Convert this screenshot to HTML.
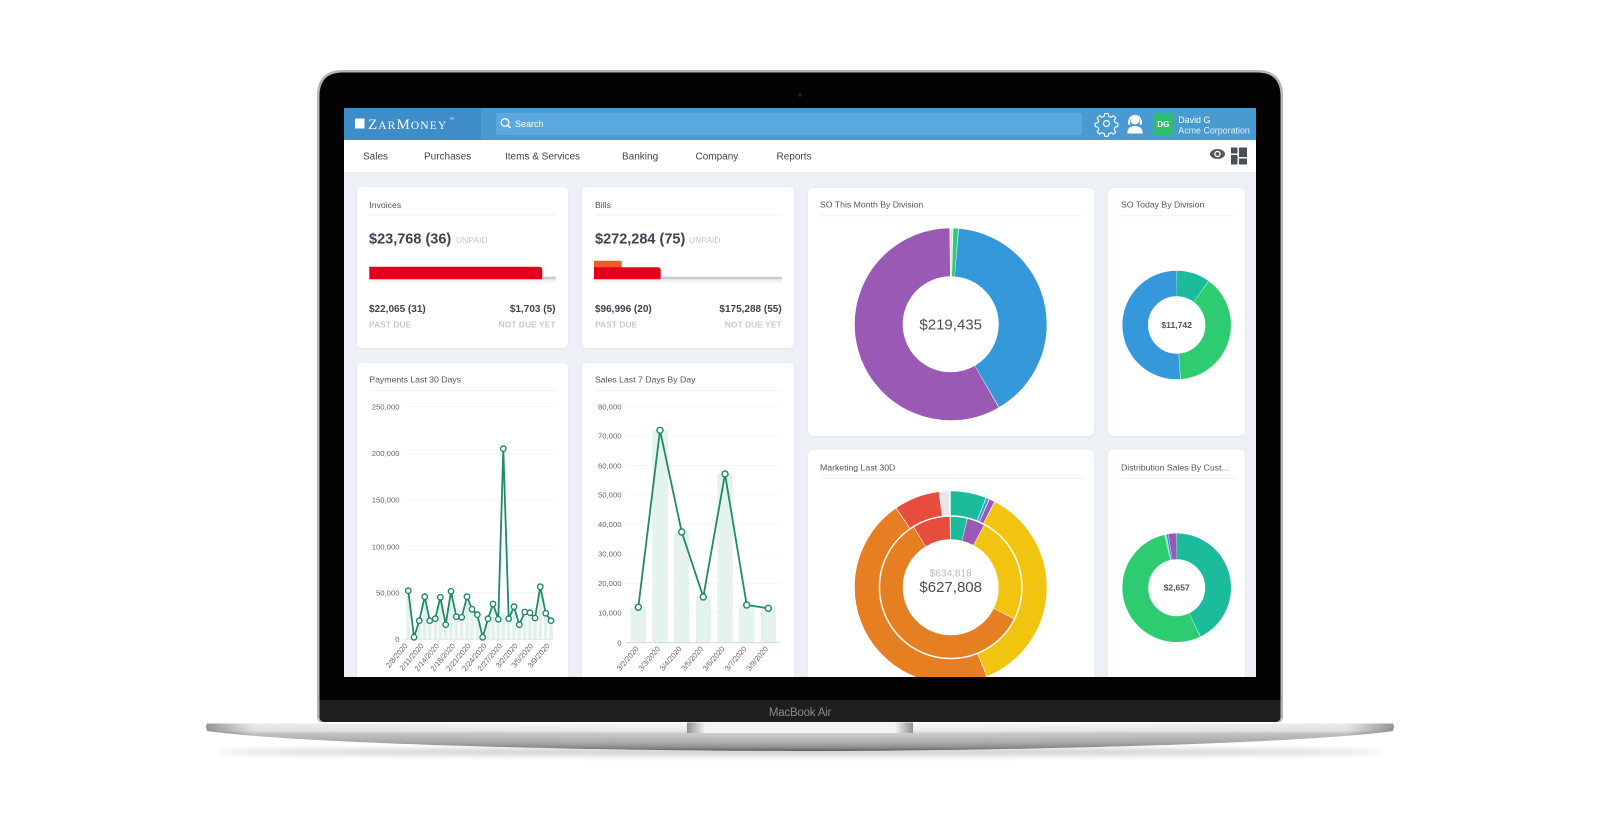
<!DOCTYPE html>
<html><head><meta charset="utf-8"><style>
html,body{margin:0;padding:0;background:#fff;}
svg{display:block;}
text{font-family:"Liberation Sans",Arial,sans-serif;}
</style></head><body>
<svg width="1600" height="825" viewBox="0 0 1600 825" xmlns="http://www.w3.org/2000/svg">
<defs>
<linearGradient id="baseG" x1="0" y1="722" x2="0" y2="751" gradientUnits="userSpaceOnUse">
<stop offset="0" stop-color="#fdfdfd"/><stop offset="0.3" stop-color="#eeeeee"/><stop offset="0.4" stop-color="#cdcdcd"/><stop offset="0.7" stop-color="#b0b0b0"/><stop offset="0.88" stop-color="#8e8e8e"/><stop offset="1" stop-color="#5c5c5c"/>
</linearGradient>
<linearGradient id="baseH" x1="206" y1="0" x2="1394" y2="0" gradientUnits="userSpaceOnUse">
<stop offset="0" stop-color="#000" stop-opacity="0.4"/><stop offset="0.04" stop-color="#000" stop-opacity="0.06"/><stop offset="0.5" stop-color="#000" stop-opacity="0"/><stop offset="0.96" stop-color="#000" stop-opacity="0.06"/><stop offset="1" stop-color="#000" stop-opacity="0.4"/>
</linearGradient>
<linearGradient id="notchG" x1="687" y1="0" x2="913" y2="0" gradientUnits="userSpaceOnUse">
<stop offset="0" stop-color="#8f8f8f"/><stop offset="0.08" stop-color="#f3f3f3"/><stop offset="0.92" stop-color="#f3f3f3"/><stop offset="1" stop-color="#8f8f8f"/>
</linearGradient>
<filter id="blur3" x="-10%" y="-200%" width="120%" height="500%"><feGaussianBlur stdDeviation="3"/></filter>
<filter id="cardS" x="-5%" y="-5%" width="110%" height="110%"><feDropShadow dx="0" dy="0.5" stdDeviation="0.8" flood-color="#000" flood-opacity="0.08"/></filter>
<clipPath id="scr"><rect x="344" y="108" width="912" height="569"/></clipPath>
</defs>

<!-- shadow under base -->
<ellipse cx="800" cy="752" rx="585" ry="4" fill="#000" opacity="0.18" filter="url(#blur3)"/>

<!-- lid -->
<path d="M317 96 Q317 70 343 70 L1257 70 Q1283 70 1283 96 L1283 716 Q1283 723 1276 723 L324 723 Q317 723 317 716 Z" fill="#b5b5b7"/>
<path d="M319.5 96 Q319.5 72.5 343 72.5 L1257 72.5 Q1280.5 72.5 1280.5 96 L1280.5 716 Q1280.5 722 1275 722 L325 722 Q319.5 722 319.5 716 Z" fill="#030303"/>
<path d="M319.5 700 L1280.5 700 L1280.5 716 Q1280.5 722 1275 722 L325 722 Q319.5 722 319.5 716 Z" fill="#1e1e20"/>
<circle cx="800" cy="95" r="2" fill="#1a1a1a"/>
<text x="800" y="716" text-anchor="middle" font-size="11.5" fill="#8a8a8a" letter-spacing="-0.2">MacBook Air</text>

<!-- base -->
<path d="M212 722 L1388 722 Q1394 722 1394 727 L1393 731 C1300 744 1000 751 800 751 C600 751 300 744 207 731 L206 727 Q206 722 212 722 Z" fill="url(#baseG)"/>
<path d="M212 722 L1388 722 Q1394 722 1394 727 L1393 731 C1300 744 1000 751 800 751 C600 751 300 744 207 731 L206 727 Q206 722 212 722 Z" fill="url(#baseH)"/>
<rect x="208" y="722" width="1184" height="1.5" fill="#fdfdfd"/>
<rect x="687" y="722.5" width="226" height="10.5" fill="url(#notchG)"/>

<!-- screen -->
<g clip-path="url(#scr)">
<rect x="344" y="108" width="912" height="569" fill="#edf0f4"/>
<!-- header -->
<rect x="344" y="108" width="912" height="32" fill="#4a9ad2"/>
<rect x="344" y="108" width="137" height="32" fill="#3f8dc8"/>
<rect x="355" y="118.5" width="9.5" height="10" fill="#fff"/>
<text x="368" y="129" fill="#fff" letter-spacing="1.1" style="font-family:'Liberation Serif',serif"><tspan font-size="15">Z</tspan><tspan font-size="11.5">AR</tspan><tspan font-size="15">M</tspan><tspan font-size="11.5">ONEY</tspan></text>
<text x="449" y="121" fill="#fff" font-size="5">™</text>
<rect x="496" y="113" width="586" height="22" rx="2" fill="#5aa9de"/>
<circle cx="505" cy="122.5" r="3.8" fill="none" stroke="#fff" stroke-width="1.3"/>
<line x1="507.8" y1="125.3" x2="510.5" y2="128" stroke="#fff" stroke-width="1.4"/>
<text x="515" y="127" fill="#fff" font-size="9">Search</text>
<!-- gear (outline) -->
<circle cx="1106.5" cy="123.5" r="3" fill="none" stroke="#fff" stroke-width="1.2"/>
<path d="M1104.8 113.5 L1108.2 113.5 L1108.7 116.2 L1111.2 117.2 L1113.4 115.6 L1115.8 118 L1114.2 120.2 L1115.2 122.7 L1117.8 123.2 L1117.8 126.6 L1115.2 127.1 L1114.2 129.6 L1115.8 131.8 L1113.4 134.2 L1111.2 132.6 L1108.7 133.6 L1108.2 136.3 L1104.8 136.3 L1104.3 133.6 L1101.8 132.6 L1099.6 134.2 L1097.2 131.8 L1098.8 129.6 L1097.8 127.1 L1095.2 126.6 L1095.2 123.2 L1097.8 122.7 L1098.8 120.2 L1097.2 118 L1099.6 115.6 L1101.8 117.2 L1104.3 116.2 Z" fill="none" stroke="#fff" stroke-width="1.1" stroke-linejoin="round"/>
<!-- headset -->
<circle cx="1135" cy="120" r="4.4" fill="#fff"/>
<path d="M1127.3 133.5 Q1127.3 126 1135 126 Q1142.7 126 1142.7 133.5 Z" fill="#fff"/>
<path d="M1129 121.5 A6 6 0 0 1 1141 121.5" fill="none" stroke="#fff" stroke-width="1.3"/>
<rect x="1128" y="120.5" width="2.2" height="4" fill="#fff"/>
<rect x="1139.8" y="120.5" width="2.2" height="4" fill="#fff"/>
<!-- user -->
<rect x="1153.3" y="113.3" width="20" height="21.7" fill="#2ebf6e"/>
<text x="1163.3" y="127" text-anchor="middle" fill="#fff" font-size="8" font-weight="bold">DG</text>
<text x="1178.3" y="123" fill="#fff" font-size="8.9">David G</text>
<text x="1178.3" y="133.3" fill="#e6f1fa" font-size="8.9">Acme Corporation</text>
<!-- nav -->
<rect x="344" y="140" width="912" height="33" fill="#fff"/>
<rect x="344" y="172.5" width="912" height="1" fill="#e2e5ea"/>
<g font-size="10" fill="#444">
<text x="363" y="159.5">Sales</text>
<text x="424" y="159.5">Purchases</text>
<text x="505" y="159.5">Items &amp; Services</text>
<text x="622" y="159.5">Banking</text>
<text x="695.5" y="159.5">Company</text>
<text x="776.5" y="159.5">Reports</text>
</g>
<ellipse cx="1217.5" cy="154" rx="7.5" ry="5" fill="#555a62"/>
<circle cx="1217.5" cy="154" r="3.2" fill="#fff"/>
<circle cx="1217.5" cy="154" r="1.9" fill="#555a62"/>
<g fill="#4a4f5a">
<rect x="1231" y="147.5" width="6.5" height="6"/>
<rect x="1231" y="155" width="6.5" height="9.5"/>
<rect x="1239" y="147.5" width="8" height="9.5"/>
<rect x="1239" y="158.5" width="8" height="6"/>
</g>

<!-- cards -->
<g fill="#fff" filter="url(#cardS)">
<rect x="357" y="187" width="211" height="161" rx="5"/>
<rect x="582" y="187" width="212" height="161" rx="5"/>
<rect x="357" y="363" width="211" height="330" rx="5"/>
<rect x="582" y="363" width="212" height="330" rx="5"/>
<rect x="808" y="188" width="286" height="248" rx="5"/>
<rect x="1108" y="188" width="137" height="248" rx="5"/>
<rect x="808" y="450" width="286" height="250" rx="5"/>
<rect x="1108" y="450" width="137" height="250" rx="5"/>
</g>
<g fill="#eef0f2">
<rect x="369" y="214.5" width="187" height="1"/>
<rect x="595" y="214.5" width="187" height="1"/>
<rect x="369" y="390.2" width="187" height="1"/>
<rect x="595" y="390.2" width="187" height="1"/>
<rect x="820" y="215.2" width="263" height="1"/>
<rect x="1121" y="215.2" width="114" height="1"/>
<rect x="820" y="477.8" width="263" height="1"/>
<rect x="1121" y="477.8" width="114" height="1"/>
</g>
<g font-size="8.7" fill="#555">
<text x="369.3" y="208">Invoices</text>
<text x="595" y="208">Bills</text>
<text x="369.3" y="382.5">Payments Last 30 Days</text>
<text x="595" y="382.5">Sales Last 7 Days By Day</text>
<text x="820" y="207.5">SO This Month By Division</text>
<text x="1121" y="207.5">SO Today By Division</text>
<text x="820" y="470.5">Marketing Last 30D</text>
<text x="1121" y="470.5">Distribution Sales By Cust...</text>
</g>

<!-- invoices -->
<text x="369" y="243.5" font-size="14.5" font-weight="bold" fill="#3c4250">$23,768 (36)</text>
<text x="456" y="243" font-size="8.5" fill="#c2c6cd">UNPAID</text>
<rect x="369" y="279.3" width="187" height="3" fill="#eff1f3"/>
<path d="M369.3 266.7 L539.3 266.7 Q542.3 266.7 542.3 269.7 L542.3 279.3 L369.3 279.3 Z" fill="#e2001a"/>
<rect x="542.3" y="276.7" width="13.4" height="2.6" fill="#c6cbd0"/>
<text x="369" y="311.8" font-size="10" font-weight="bold" fill="#3c4250">$22,065 (31)</text>
<text x="555.5" y="311.8" font-size="10" font-weight="bold" fill="#3c4250" text-anchor="end">$1,703 (5)</text>
<text x="369" y="327.3" font-size="8.5" font-weight="bold" fill="#c6cad0">PAST DUE</text>
<text x="555.5" y="327.3" font-size="8.5" font-weight="bold" fill="#c6cad0" text-anchor="end">NOT DUE YET</text>

<!-- bills -->
<text x="595" y="243.5" font-size="14.5" font-weight="bold" fill="#3c4250">$272,284 (75)</text>
<text x="689" y="243" font-size="8.5" fill="#c2c6cd">UNPAID</text>
<rect x="594" y="279.3" width="188" height="3" fill="#eff1f3"/>
<path d="M594 260.7 L619.7 260.7 Q621.7 260.7 621.7 262.7 L621.7 268 L594 268 Z" fill="#f15a24"/>
<path d="M594 267.3 L657.7 267.3 Q660.7 267.3 660.7 270.3 L660.7 279.3 L594 279.3 Z" fill="#e2001a"/>
<rect x="660.7" y="276.7" width="121" height="2.6" fill="#c6cbd0"/>
<text x="595" y="311.8" font-size="10" font-weight="bold" fill="#3c4250">$96,996 (20)</text>
<text x="781.7" y="311.8" font-size="10" font-weight="bold" fill="#3c4250" text-anchor="end">$175,288 (55)</text>
<text x="595" y="327.3" font-size="8.5" font-weight="bold" fill="#c6cad0">PAST DUE</text>
<text x="781.7" y="327.3" font-size="8.5" font-weight="bold" fill="#c6cad0" text-anchor="end">NOT DUE YET</text>

<!-- payments chart -->
<g stroke="#f1f2f3" stroke-width="0.8">
<line x1="404" y1="406.7" x2="553" y2="406.7"/><line x1="404" y1="453.3" x2="553" y2="453.3"/><line x1="404" y1="500" x2="553" y2="500"/><line x1="404" y1="546.7" x2="553" y2="546.7"/><line x1="404" y1="592.7" x2="553" y2="592.7"/>
</g>
<g font-size="7.7" fill="#666" text-anchor="end">
<text x="399.5" y="409.4">250,000</text><text x="399.5" y="456">200,000</text><text x="399.5" y="502.7">150,000</text><text x="399.5" y="549.4">100,000</text><text x="399.5" y="595.4">50,000</text><text x="399.5" y="642">0</text>
</g>
<g fill="#e3f1ec">
<rect x="406.5" y="596" width="3.6" height="43.3"/><rect x="417.5" y="624" width="3.6" height="15.3"/><rect x="422.9" y="602" width="3.6" height="37.3"/><rect x="427.9" y="624" width="3.6" height="15.3"/><rect x="433.5" y="622" width="3.6" height="17.3"/><rect x="438.5" y="603" width="3.6" height="36.3"/><rect x="443.9" y="628" width="3.6" height="11.3"/><rect x="449.2" y="597" width="3.6" height="42.3"/><rect x="454.5" y="620" width="3.6" height="19.3"/><rect x="459.9" y="620" width="3.6" height="19.3"/><rect x="465.2" y="602" width="3.6" height="37.3"/><rect x="470.2" y="613" width="3.6" height="26.3"/><rect x="475.5" y="618" width="3.6" height="21.3"/><rect x="486.2" y="622" width="3.6" height="17.3"/><rect x="491.2" y="609" width="3.6" height="30.3"/><rect x="496.5" y="623" width="3.6" height="16.3"/><rect x="501.5" y="612" width="3.6" height="27.3"/><rect x="506.9" y="622" width="3.6" height="17.3"/><rect x="512.2" y="611" width="3.6" height="28.3"/><rect x="517.5" y="628" width="3.6" height="11.3"/><rect x="522.9" y="616" width="3.6" height="23.3"/><rect x="528.2" y="616" width="3.6" height="23.3"/><rect x="533.2" y="621" width="3.6" height="18.3"/><rect x="538.5" y="592" width="3.6" height="47.3"/><rect x="543.9" y="617" width="3.6" height="22.3"/><rect x="549.2" y="624" width="3.6" height="15.3"/>
</g>
<line x1="404" y1="639.3" x2="553" y2="639.3" stroke="#dfe3e6" stroke-width="0.8"/>
<polyline fill="none" stroke="#1e8a68" stroke-width="1.8" stroke-linejoin="round" points="408.3,590.7 414,637.3 419.3,620.7 424.7,596.7 429.7,620.7 435.3,618.7 440.3,597.3 445.7,624.7 451,591.3 456.3,616.7 461.7,617.3 467,596.7 472,609.3 477.3,614.7 482.7,637.3 488,618.7 493,604 498.3,619.3 503.3,448.7 508.7,618.7 514,606.7 519.3,624.7 524.7,612 530,612.7 535,618 540.3,586.7 545.7,613.3 551,620.7"/>
<g fill="#fff" stroke="#1e8a68" stroke-width="1.4">
<circle cx="408.3" cy="590.7" r="2.7"/><circle cx="414" cy="637.3" r="2.7"/><circle cx="419.3" cy="620.7" r="2.7"/><circle cx="424.7" cy="596.7" r="2.7"/><circle cx="429.7" cy="620.7" r="2.7"/><circle cx="435.3" cy="618.7" r="2.7"/><circle cx="440.3" cy="597.3" r="2.7"/><circle cx="445.7" cy="624.7" r="2.7"/><circle cx="451" cy="591.3" r="2.7"/><circle cx="456.3" cy="616.7" r="2.7"/><circle cx="461.7" cy="617.3" r="2.7"/><circle cx="467" cy="596.7" r="2.7"/><circle cx="472" cy="609.3" r="2.7"/><circle cx="477.3" cy="614.7" r="2.7"/><circle cx="482.7" cy="637.3" r="2.7"/><circle cx="488" cy="618.7" r="2.7"/><circle cx="493" cy="604" r="2.7"/><circle cx="498.3" cy="619.3" r="2.7"/><circle cx="503.3" cy="448.7" r="2.7"/><circle cx="508.7" cy="618.7" r="2.7"/><circle cx="514" cy="606.7" r="2.7"/><circle cx="519.3" cy="624.7" r="2.7"/><circle cx="524.7" cy="612" r="2.7"/><circle cx="530" cy="612.7" r="2.7"/><circle cx="535" cy="618" r="2.7"/><circle cx="540.3" cy="586.7" r="2.7"/><circle cx="545.7" cy="613.3" r="2.7"/><circle cx="551" cy="620.7" r="2.7"/>
</g>
<g font-size="7.5" fill="#666" text-anchor="end">
<text transform="translate(408,646) rotate(-50)">2/8/2020</text>
<text transform="translate(424,646) rotate(-50)">2/11/2020</text>
<text transform="translate(439.5,646) rotate(-50)">2/14/2020</text>
<text transform="translate(455.5,646) rotate(-50)">2/18/2020</text>
<text transform="translate(471,646) rotate(-50)">2/21/2020</text>
<text transform="translate(487,646) rotate(-50)">2/24/2020</text>
<text transform="translate(502.5,646) rotate(-50)">2/27/2020</text>
<text transform="translate(518,646) rotate(-50)">3/2/2020</text>
<text transform="translate(533.5,646) rotate(-50)">3/5/2020</text>
<text transform="translate(550,646) rotate(-50)">3/9/2020</text>
</g>

<!-- sales chart -->
<g stroke="#f3f4f5" stroke-width="0.8">
<line x1="626" y1="406.7" x2="780" y2="406.7"/><line x1="626" y1="436" x2="780" y2="436"/><line x1="626" y1="465.7" x2="780" y2="465.7"/><line x1="626" y1="495" x2="780" y2="495"/><line x1="626" y1="524.3" x2="780" y2="524.3"/><line x1="626" y1="554" x2="780" y2="554"/><line x1="626" y1="583.3" x2="780" y2="583.3"/><line x1="626" y1="612.7" x2="780" y2="612.7"/>
</g>
<g font-size="7.7" fill="#666" text-anchor="end">
<text x="621.5" y="409.4">80,000</text><text x="621.5" y="438.7">70,000</text><text x="621.5" y="468.4">60,000</text><text x="621.5" y="497.7">50,000</text><text x="621.5" y="527">40,000</text><text x="621.5" y="556.7">30,000</text><text x="621.5" y="586">20,000</text><text x="621.5" y="615.4">10,000</text><text x="621.5" y="645.4">0</text>
</g>
<g fill="#e5f3ee">
<rect x="630.7" y="607.3" width="15.3" height="35.4"/>
<rect x="652.3" y="430" width="15.7" height="212.7"/>
<rect x="674" y="531.7" width="15.3" height="111"/>
<rect x="695.7" y="596.7" width="15.3" height="46"/>
<rect x="717.3" y="473.3" width="15.4" height="169.4"/>
<rect x="739" y="605" width="15.3" height="37.7"/>
<rect x="760.7" y="608.3" width="15.3" height="34.4"/>
</g>
<line x1="626" y1="642.7" x2="780" y2="642.7" stroke="#cfd3d6" stroke-width="0.8"/>
<polyline fill="none" stroke="#1e8a68" stroke-width="1.8" stroke-linejoin="round" points="638.3,607.3 660,430.3 681.7,532 703.3,597 725,474 746.7,605 768.3,608.3"/>
<g fill="#fff" stroke="#1e8a68" stroke-width="1.4">
<circle cx="638.3" cy="607.3" r="3"/><circle cx="660" cy="430.3" r="3"/><circle cx="681.7" cy="532" r="3"/><circle cx="703.3" cy="597" r="3"/><circle cx="725" cy="474" r="3"/><circle cx="746.7" cy="605" r="3"/><circle cx="768.3" cy="608.3" r="3"/>
</g>
<g font-size="7.5" fill="#666" text-anchor="end">
<text transform="translate(639,649) rotate(-50)">3/2/2020</text>
<text transform="translate(660.5,649) rotate(-50)">3/3/2020</text>
<text transform="translate(682,649) rotate(-50)">3/4/2020</text>
<text transform="translate(703.5,649) rotate(-50)">3/5/2020</text>
<text transform="translate(725,649) rotate(-50)">3/6/2020</text>
<text transform="translate(747,649) rotate(-50)">3/7/2020</text>
<text transform="translate(768.5,649) rotate(-50)">3/9/2020</text>
</g>

<!-- SO this month donut -->
<g fill="none" stroke-width="48" transform="rotate(-90 950.7 324.3)">
<circle cx="950.7" cy="324.3" r="72" pathLength="360" stroke="#dfe3e6" stroke-dasharray="1.2 400" stroke-dashoffset="0"/>
<circle cx="950.7" cy="324.3" r="72" pathLength="360" stroke="#2ecc71" stroke-dasharray="2.9 400" stroke-dashoffset="-1.6"/>
<circle cx="950.7" cy="324.3" r="72" pathLength="360" stroke="#3498db" stroke-dasharray="144.9 400" stroke-dashoffset="-4.9"/>
<circle cx="950.7" cy="324.3" r="72" pathLength="360" stroke="#9b59b6" stroke-dasharray="209.5 400" stroke-dashoffset="-150.2"/>
</g>
<text x="950.7" y="329.7" text-anchor="middle" font-size="15" fill="#4a4f57">$219,435</text>

<!-- SO today donut -->
<g fill="none" stroke-width="25.6" transform="rotate(-90 1176.7 325)">
<circle cx="1176.7" cy="325" r="41.5" pathLength="360" stroke="#1abc9c" stroke-dasharray="35.8 400" stroke-dashoffset="0"/>
<circle cx="1176.7" cy="325" r="41.5" pathLength="360" stroke="#2ecc71" stroke-dasharray="139.2 400" stroke-dashoffset="-36.4"/>
<circle cx="1176.7" cy="325" r="41.5" pathLength="360" stroke="#3498db" stroke-dasharray="183.4 400" stroke-dashoffset="-176.2"/>
</g>
<text x="1176.7" y="328" text-anchor="middle" font-size="8.6" font-weight="bold" fill="#555">$11,742</text>

<!-- marketing donut -->
<g fill="none" stroke-width="24" transform="rotate(-90 950.7 587.3)">
<circle cx="950.7" cy="587.3" r="84" pathLength="360" stroke="#1abc9c" stroke-dasharray="21.4 400" stroke-dashoffset="0"/>
<circle cx="950.7" cy="587.3" r="84" pathLength="360" stroke="#3498db" stroke-dasharray="1.5 400" stroke-dashoffset="-21.9"/>
<circle cx="950.7" cy="587.3" r="84" pathLength="360" stroke="#9b59b6" stroke-dasharray="3.1 400" stroke-dashoffset="-23.9"/>
<circle cx="950.7" cy="587.3" r="84" pathLength="360" stroke="#f1c40f" stroke-dasharray="130.3 400" stroke-dashoffset="-27.5"/>
<circle cx="950.7" cy="587.3" r="84" pathLength="360" stroke="#e67e22" stroke-dasharray="167.2 400" stroke-dashoffset="-158.3"/>
<circle cx="950.7" cy="587.3" r="84" pathLength="360" stroke="#e74c3c" stroke-dasharray="27.3 400" stroke-dashoffset="-326"/>
<circle cx="950.7" cy="587.3" r="84" pathLength="360" stroke="#e5e7e9" stroke-dasharray="5.8 400" stroke-dashoffset="-353.8"/>
</g>
<g fill="none" stroke-width="22.5" transform="rotate(-90 950.7 587.3)">
<circle cx="950.7" cy="587.3" r="59.25" pathLength="360" stroke="#1abc9c" stroke-dasharray="13.4 400" stroke-dashoffset="0"/>
<circle cx="950.7" cy="587.3" r="59.25" pathLength="360" stroke="#9b59b6" stroke-dasharray="14.3 400" stroke-dashoffset="-13.9"/>
<circle cx="950.7" cy="587.3" r="59.25" pathLength="360" stroke="#f1c40f" stroke-dasharray="87.5 400" stroke-dashoffset="-28.7"/>
<circle cx="950.7" cy="587.3" r="59.25" pathLength="360" stroke="#e67e22" stroke-dasharray="211.9 400" stroke-dashoffset="-116.7"/>
<circle cx="950.7" cy="587.3" r="59.25" pathLength="360" stroke="#e74c3c" stroke-dasharray="30.5 400" stroke-dashoffset="-329.1"/>
</g>
<text x="950.7" y="576.3" text-anchor="middle" font-size="10" fill="#b5bac2">$634,818</text>
<text x="950.7" y="592.1" text-anchor="middle" font-size="15" fill="#4a4f57">$627,808</text>

<!-- distribution donut -->
<g fill="none" stroke-width="25.8" transform="rotate(-90 1176.7 587.7)">
<circle cx="1176.7" cy="587.7" r="41.4" pathLength="360" stroke="#1abc9c" stroke-dasharray="153.8 400" stroke-dashoffset="0"/>
<circle cx="1176.7" cy="587.7" r="41.4" pathLength="360" stroke="#2ecc71" stroke-dasharray="192.4 400" stroke-dashoffset="-154.4"/>
<circle cx="1176.7" cy="587.7" r="41.4" pathLength="360" stroke="#a9cce3" stroke-dasharray="1.4 400" stroke-dashoffset="-347.2"/>
<circle cx="1176.7" cy="587.7" r="41.4" pathLength="360" stroke="#3498db" stroke-dasharray="1.8 400" stroke-dashoffset="-349"/>
<circle cx="1176.7" cy="587.7" r="41.4" pathLength="360" stroke="#9b59b6" stroke-dasharray="8.4 400" stroke-dashoffset="-351.2"/>
</g>
<text x="1176.7" y="590.7" text-anchor="middle" font-size="8.5" font-weight="bold" fill="#555">$2,657</text>
</g>
</svg>
</body></html>
